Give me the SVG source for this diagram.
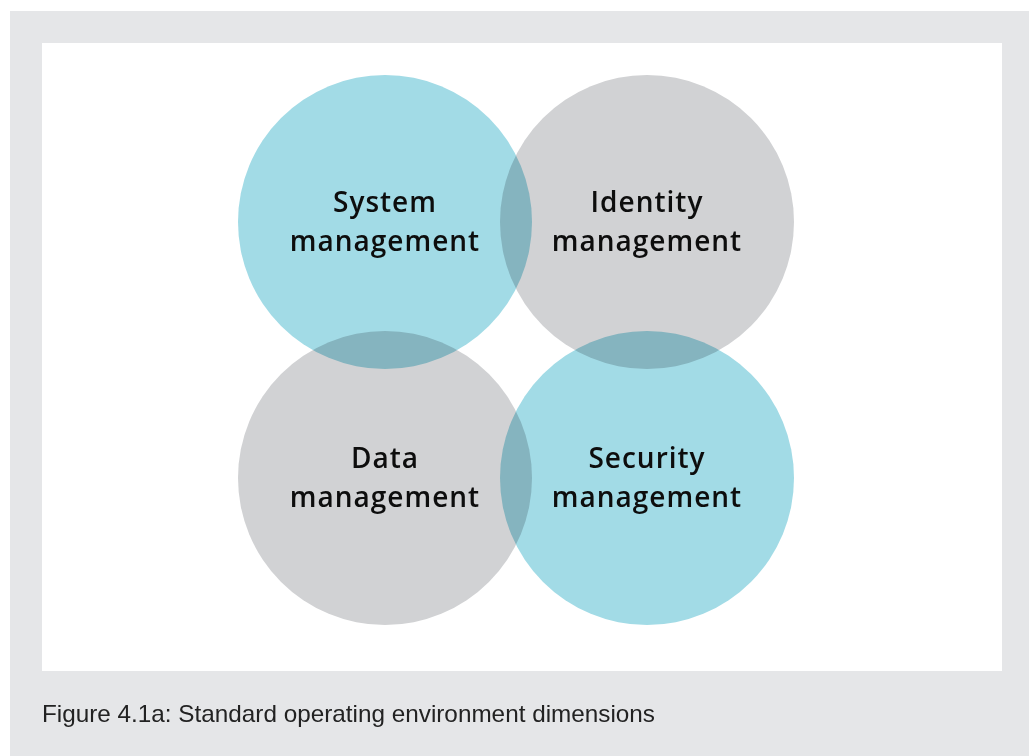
<svg xmlns="http://www.w3.org/2000/svg" width="1029" height="756" viewBox="0 0 1029 756">
<style>
.teal{fill:#a2dbe6;mix-blend-mode:multiply}
.gray{fill:#d1d2d4;mix-blend-mode:multiply}
.lbl{font-family:"Open Sans",sans-serif;font-size:28px;font-weight:600;fill:#0d0d0d;text-anchor:middle;letter-spacing:1px}
.cap{font-family:"Liberation Sans",sans-serif;font-size:24px;fill:#222}
</style>
<rect x="10" y="11" width="1019" height="745" fill="#e5e6e8"/>
<rect x="42" y="43" width="960" height="628" fill="#ffffff"/>
<g id="diagram" style="isolation:isolate">
<g id="system"><circle class="teal" cx="385" cy="222" r="147"/></g>
<g id="identity"><circle class="gray" cx="647" cy="222" r="147"/></g>
<g id="data"><circle class="gray" cx="385" cy="478" r="147"/></g>
<g id="security"><circle class="teal" cx="647" cy="478" r="147"/></g>
</g>
<g id="labels">
<text class="lbl" x="385" y="212">System</text>
<text class="lbl" x="385" y="251">management</text>
<text class="lbl" x="647" y="212">Identity</text>
<text class="lbl" x="647" y="251">management</text>
<text class="lbl" x="385" y="468">Data</text>
<text class="lbl" x="385" y="507">management</text>
<text class="lbl" x="647" y="468">Security</text>
<text class="lbl" x="647" y="507">management</text>
</g>
<g id="connectors"/>
<text class="cap" x="42" y="722" textLength="613" lengthAdjust="spacingAndGlyphs">Figure 4.1a: Standard operating environment dimensions</text>
</svg>
